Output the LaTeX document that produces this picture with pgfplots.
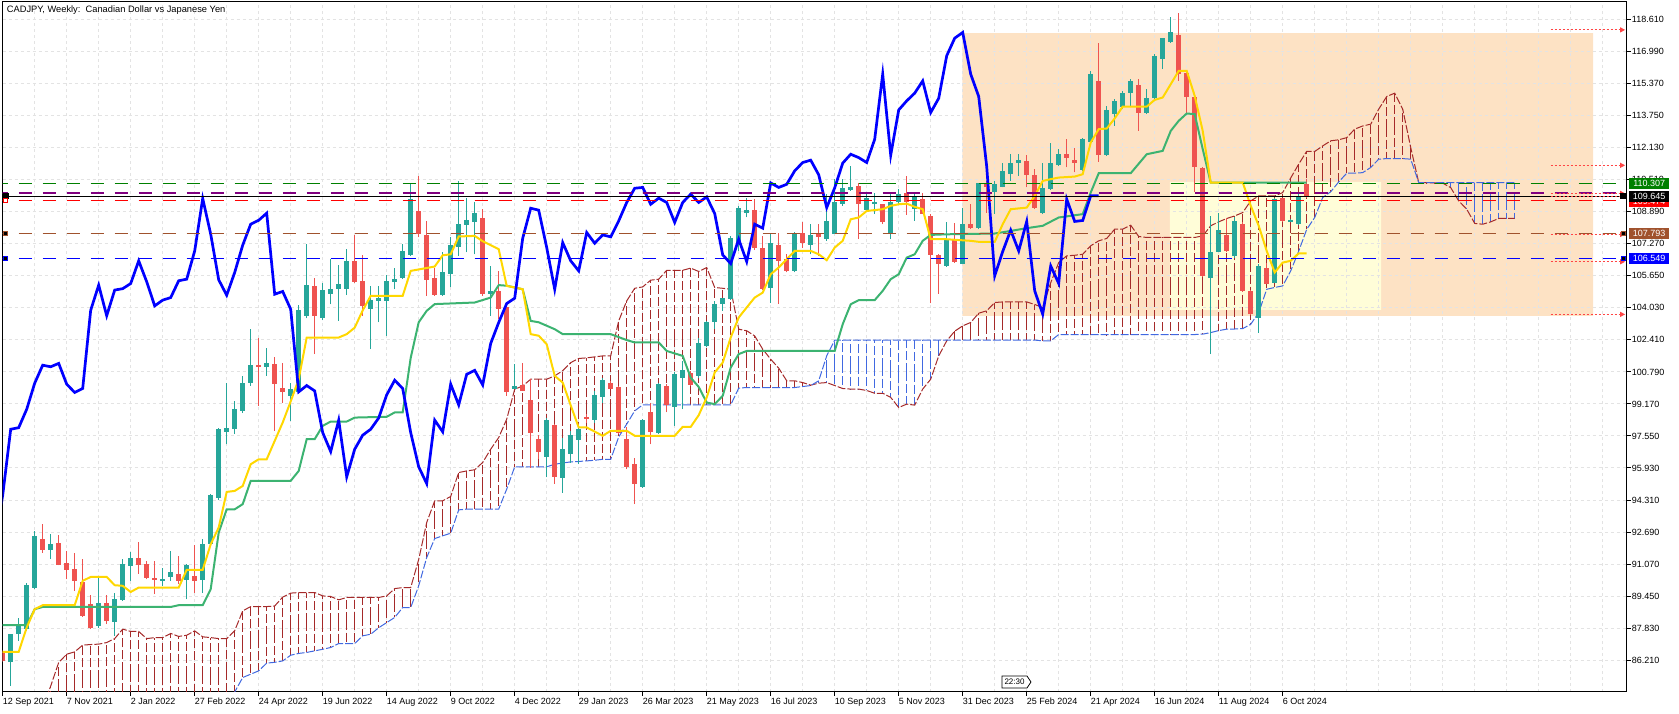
\documentclass[border=0pt]{standalone}
\usepackage{pgfplots}
\pgfplotsset{compat=1.18}
\usepackage{pgfplotstable}
\usepackage{fontspec}
\setmainfont{Liberation Sans}
\usetikzlibrary{arrows.meta}
\definecolor{bull}{HTML}{26A69A}
\definecolor{bear}{HTML}{EF5350}
\definecolor{tenkan}{HTML}{FFD700}
\definecolor{kijun}{HTML}{3CB371}
\definecolor{chikou}{HTML}{0000FF}
\definecolor{cloudred}{HTML}{A52A2A}
\definecolor{cloudblue}{HTML}{4169E1}
\definecolor{orangebox}{HTML}{FDE2C4}
\definecolor{yellowbox}{HTML}{FFFDD8}
\definecolor{lvgreen}{HTML}{008000}
\definecolor{lvpurple}{HTML}{800080}
\definecolor{lvbrown}{HTML}{A0522D}
\definecolor{arrowred}{HTML}{FF4545}
\definecolor{gridc}{HTML}{E3E3E3}

% bullish weekly candles: bar index, open, high, low, close
\pgfplotstableread{
i o h l c
1 86.11 87.55 84.91 87.52
2 87.52 88.36 87.19 87.94
3 87.78 90.10 87.70 90.00
4 89.88 92.75 89.80 92.50
6 91.79 92.58 91.32 92.08
12 87.94 90.39 87.86 89.12
14 88.15 89.63 87.44 89.29
15 89.26 91.32 89.21 91.06
16 90.98 91.70 90.22 91.40
20 90.27 90.89 89.97 90.30
21 90.44 91.74 90.22 90.69
23 90.27 91.06 89.29 91.01
25 90.27 92.36 89.63 92.07
26 92.11 94.60 92.00 94.55
27 94.40 97.95 94.30 97.89
28 97.77 100.25 97.13 97.97
29 97.92 99.32 97.64 98.90
30 98.82 100.60 98.70 100.22
31 100.25 102.95 100.10 101.13
33 101.06 102.02 100.59 101.22
36 99.58 100.25 98.31 99.95
37 99.78 104.17 99.70 103.91
38 103.63 107.25 103.50 105.18
40 103.51 105.31 103.40 104.93
41 104.72 106.49 104.20 105.00
42 104.97 106.19 103.37 105.26
43 104.97 107.00 104.67 106.41
46 103.96 105.14 101.94 104.42
47 104.38 105.14 103.29 104.55
48 104.38 105.68 102.61 105.40
49 105.36 106.07 104.97 105.48
50 105.56 107.25 105.48 106.91
51 106.69 110.28 106.66 109.56
55 104.67 106.83 104.64 105.82
56 105.73 107.59 105.06 107.20
57 107.13 110.45 106.66 108.26
58 108.21 109.61 106.83 108.46
59 108.38 109.39 106.74 108.82
61 104.72 106.15 103.63 104.86
64 99.91 101.18 99.90 100.10
68 96.49 98.48 95.45 98.35
70 95.40 97.47 94.69 96.88
71 96.66 97.81 96.20 97.59
72 97.34 98.06 96.12 97.89
74 98.35 99.83 98.22 99.63
75 99.53 100.50 99.24 100.37
80 94.97 98.40 94.93 98.35
82 97.69 100.25 97.64 100.17
84 99.02 100.76 98.06 100.67
85 100.50 101.35 98.90 100.87
87 100.59 102.53 100.50 102.23
88 102.11 103.37 102.03 103.29
89 103.29 104.38 102.95 104.25
90 104.25 104.55 103.88 104.52
91 104.47 107.67 104.42 107.55
92 107.33 109.19 106.91 109.07
93 108.83 109.61 108.60 108.97
96 105.06 107.84 104.30 107.33
99 105.87 107.88 105.82 107.84
101 107.22 108.26 106.74 107.72
103 107.50 109.78 107.42 108.43
104 107.79 110.54 107.76 109.36
105 109.27 110.54 109.19 110.08
106 110.00 111.21 109.95 110.12
108 108.98 109.86 108.93 109.58
109 109.27 109.86 108.77 109.36
111 107.81 109.86 107.50 109.36
112 109.36 110.03 109.27 109.78
114 109.02 109.78 108.43 109.64
118 106.15 108.35 106.10 107.50
120 106.24 109.10 106.24 108.26
122 108.06 110.37 108.00 110.35
124 109.91 110.45 108.80 110.28
125 110.15 111.38 110.12 110.96
126 110.79 111.80 110.45 111.38
127 111.36 111.80 110.70 111.50
130 108.85 111.38 108.77 110.10
131 110.03 112.36 110.00 111.35
132 111.26 112.05 111.20 111.80
135 111.01 112.64 110.96 112.56
136 112.43 116.02 112.39 115.85
138 111.75 114.24 111.72 114.04
139 113.83 114.58 113.24 114.50
140 114.21 115.00 114.08 114.89
141 114.89 115.60 114.25 115.51
143 113.91 115.09 113.83 114.63
144 114.62 116.86 114.58 116.78
145 116.61 117.70 116.10 117.67
146 117.48 118.72 117.45 117.96
151 105.56 108.68 101.69 106.88
152 106.86 108.85 106.83 107.96
154 106.66 108.60 106.57 108.40
157 103.54 106.24 102.78 106.15
159 105.31 109.61 105.28 109.53
161 108.40 108.50 108.35 108.45
162 108.26 109.78 108.21 109.70
}\bullc

% bearish weekly candles
\pgfplotstableread{
i o h l c
0 86.60 86.70 86.10 86.17
5 92.33 93.09 91.65 91.79
7 92.13 92.53 91.00 91.03
8 91.11 91.74 90.30 90.78
9 90.84 91.65 89.71 90.19
10 90.14 91.32 88.40 88.45
11 89.04 89.49 87.78 87.86
13 89.09 89.49 88.03 88.20
17 91.40 92.21 90.59 91.03
18 91.06 91.23 90.30 90.35
19 90.39 91.23 89.55 90.27
22 90.59 91.48 90.05 90.22
24 90.47 92.02 89.63 90.19
32 101.15 102.53 99.07 101.05
34 101.18 101.52 97.81 100.17
35 100.00 101.26 99.24 99.75
39 105.14 105.56 101.69 103.63
44 106.41 107.71 105.31 105.35
45 105.38 106.69 103.63 104.13
52 108.94 110.71 107.59 107.76
53 107.71 108.43 104.64 105.45
54 105.56 106.07 104.64 104.67
60 108.60 109.02 104.64 104.72
62 104.89 105.90 103.46 103.96
63 104.05 104.13 99.58 99.78
65 100.12 101.26 99.80 99.83
66 99.36 100.42 95.95 97.72
67 97.39 97.60 96.40 96.76
69 98.10 98.15 95.14 95.48
73 98.50 98.65 98.22 98.46
76 100.25 100.34 99.92 99.95
77 100.03 100.08 97.64 97.72
78 97.39 97.98 95.87 95.99
79 96.12 96.46 94.10 95.14
81 98.74 99.24 97.13 97.76
83 100.08 100.17 98.74 99.12
86 100.71 100.84 100.08 100.13
94 108.99 109.53 106.95 107.08
95 107.08 107.67 104.95 104.97
97 107.20 107.84 104.22 106.41
98 106.49 106.74 105.82 105.90
100 107.84 108.35 107.08 107.30
102 107.81 108.26 106.66 107.62
107 110.17 110.37 107.50 109.27
110 109.27 109.30 108.26 108.35
113 109.83 110.70 108.73 109.36
115 109.56 109.86 108.77 108.80
116 108.68 108.77 104.25 106.71
117 106.71 106.74 104.75 106.27
119 107.50 108.31 106.32 106.37
121 108.26 109.27 108.03 108.06
123 110.28 110.45 108.85 110.12
128 111.47 111.75 110.12 110.76
129 110.74 111.04 109.02 109.10
133 111.80 112.56 111.13 111.63
134 111.50 112.14 110.88 111.38
137 115.51 117.45 111.41 111.75
142 115.29 115.60 113.00 113.91
147 117.82 118.93 115.51 115.85
148 115.90 116.02 113.83 114.72
149 114.72 114.75 109.90 111.18
150 111.09 111.13 105.60 105.65
153 107.70 108.55 106.86 106.91
155 108.26 108.35 104.84 104.89
156 104.89 104.92 103.66 103.71
158 106.07 106.32 105.23 105.26
160 109.58 109.61 108.38 108.40
163 110.28 110.54 109.60 109.70
}\bearc

% weekly closes (Chikou span is drawn 26 bars back)
\pgfplotstableread{
i c
0 86.17
1 87.52
2 87.94
3 90.00
4 92.50
5 91.79
6 92.08
7 91.03
8 90.78
9 90.19
10 88.45
11 87.86
12 89.12
13 88.20
14 89.29
15 91.06
16 91.40
17 91.03
18 90.35
19 90.27
20 90.30
21 90.69
22 90.22
23 91.01
24 90.19
25 92.07
26 94.55
27 97.89
28 97.97
29 98.90
30 100.22
31 101.13
32 101.05
33 101.22
34 100.17
35 99.75
36 99.95
37 103.91
38 105.18
39 103.63
40 104.93
41 105.00
42 105.26
43 106.41
44 105.35
45 104.13
46 104.42
47 104.55
48 105.40
49 105.48
50 106.91
51 109.56
52 107.76
53 105.45
54 104.67
55 105.82
56 107.20
57 108.26
58 108.46
59 108.82
60 104.72
61 104.86
62 103.96
63 99.78
64 100.10
65 99.83
66 97.72
67 96.76
68 98.35
69 95.48
70 96.88
71 97.59
72 97.89
73 98.46
74 99.63
75 100.37
76 99.95
77 97.72
78 95.99
79 95.14
80 98.35
81 97.76
82 100.17
83 99.12
84 100.67
85 100.87
86 100.13
87 102.23
88 103.29
89 104.25
90 104.52
91 107.55
92 109.07
93 108.97
94 107.08
95 104.97
96 107.33
97 106.41
98 105.90
99 107.84
100 107.30
101 107.72
102 107.62
103 108.43
104 109.36
105 110.08
106 110.12
107 109.27
108 109.58
109 109.36
110 108.35
111 109.36
112 109.78
113 109.36
114 109.64
115 108.80
116 106.71
117 106.27
118 107.50
119 106.37
120 108.26
121 108.06
122 110.35
123 110.12
124 110.28
125 110.96
126 111.38
127 111.50
128 110.76
129 109.10
130 110.10
131 111.35
132 111.80
133 111.63
134 111.38
135 112.56
136 115.85
137 111.75
138 114.04
139 114.50
140 114.89
141 115.51
142 113.91
143 114.63
144 116.78
145 117.67
146 117.96
147 115.85
148 114.72
149 111.18
150 105.65
151 106.88
152 107.96
153 106.91
154 108.40
155 104.89
156 103.71
157 106.15
158 105.26
159 109.53
160 108.40
161 108.45
162 109.70
163 109.70
}\closes

% Ichimoku cloud: Senkou span A and span B per bar
\pgfplotstableread{
i A B
5 83.8 83.5
6 84.9 83.5
7 86.09 83.5
8 86.51 83.5
9 86.63 83.5
10 86.97 83.5
11 87.00 83.5
12 87.02 83.5
13 87.10 83.5
14 87.30 83.5
15 87.78 83.5
16 87.66 83.5
17 87.66 83.5
18 87.30 83.5
19 87.35 83.5
20 87.35 83.5
21 87.56 83.5
22 87.41 83.5
23 87.47 83.5
24 87.69 83.5
25 87.39 83.5
26 87.35 83.5
27 87.30 83.5
28 87.30 84.0
29 87.70 84.60
30 88.70 85.33
31 88.92 85.50
32 88.92 85.67
33 88.92 86.06
34 88.95 86.10
35 89.40 86.17
36 89.60 86.46
37 89.63 86.55
38 89.63 86.60
39 89.63 86.68
40 89.46 86.76
41 89.43 86.85
42 89.26 87.05
43 89.38 87.05
44 89.38 87.05
45 89.38 87.44
46 89.38 87.52
47 89.38 87.85
48 89.46 88.11
49 89.83 88.37
50 89.88 88.87
51 89.88 88.87
52 91.30 89.97
53 93.17 91.40
54 94.27 92.36
55 94.27 92.50
56 94.49 92.63
57 95.70 93.81
58 95.78 93.85
59 95.84 93.85
60 96.21 93.85
61 96.88 93.85
62 97.47 93.85
63 98.40 94.86
64 99.91 95.99
65 100.08 95.99
66 100.42 95.99
67 100.42 95.99
68 100.42 95.99
69 100.59 96.12
70 100.85 96.18
71 101.26 96.24
72 101.47 96.26
73 101.50 96.29
74 101.55 96.32
75 101.60 96.37
76 101.60 96.37
77 103.37 97.50
78 104.38 98.15
79 105.02 98.82
80 105.09 99.12
81 105.43 99.12
82 105.48 99.12
83 105.93 99.12
84 105.93 99.12
85 105.93 99.12
86 106.04 99.12
87 105.87 99.12
88 106.07 99.12
89 105.06 99.12
90 105.02 99.12
91 104.97 99.12
92 102.95 99.97
93 102.87 100.00
94 102.61 100.00
95 101.94 100.00
96 101.43 100.00
97 100.98 100.00
98 100.34 100.00
99 100.34 100.00
100 100.25 100.05
101 100.12 100.10
102 100.22 100.34
103 100.25 101.60
104 100.10 102.40
105 99.95 102.40
106 99.92 102.40
107 99.92 102.40
108 99.85 102.40
109 99.71 102.40
110 99.71 102.40
111 99.50 102.40
112 98.99 102.40
113 99.16 102.40
114 99.11 102.40
115 99.92 102.40
116 100.42 102.40
117 101.60 102.40
118 102.36 102.40
119 102.85 102.40
120 103.12 102.40
121 103.29 102.40
122 103.76 102.40
123 103.88 102.40
124 104.30 102.40
125 104.33 102.40
126 104.33 102.40
127 104.33 102.40
128 104.33 102.40
129 104.20 102.40
130 104.05 102.36
131 105.30 102.36
132 106.32 102.68
133 106.66 102.68
134 106.69 102.68
135 106.74 102.68
136 107.17 102.68
137 107.42 102.68
138 107.54 102.68
139 108.01 102.68
140 108.01 102.68
141 108.21 102.68
142 107.64 102.68
143 107.59 102.68
144 107.59 102.68
145 107.59 102.68
146 107.59 102.68
147 107.59 102.68
148 107.59 102.68
149 107.59 102.68
150 107.67 102.70
151 108.18 102.78
152 108.38 102.88
153 108.55 102.95
154 108.68 102.96
155 108.85 102.98
156 109.44 103.20
157 109.69 103.79
158 109.69 104.97
159 109.69 105.06
160 109.86 105.14
161 110.60 105.90
162 111.30 106.90
163 111.95 108.00
164 111.94 108.60
165 112.22 109.61
166 112.48 109.90
167 112.53 110.40
168 112.64 110.84
169 113.07 110.84
170 113.23 110.87
171 113.32 111.13
172 114.08 111.55
173 114.72 111.58
174 114.89 111.58
175 114.08 111.58
176 112.14 111.55
177 110.37 110.37
178 110.36 110.37
179 110.35 110.37
180 110.34 110.37
181 110.11 110.37
182 109.44 110.37
183 109.02 110.37
184 108.30 110.37
185 108.26 110.37
186 108.38 110.37
187 108.55 110.37
188 108.55 110.37
189 108.55 110.37
}\cloud

\pgfplotstableread{
i v
0 86.63
2 86.63
3 87.86
4 88.79
5 88.99
9 88.99
10 90.22
11 90.42
13 90.42
14 90.00
15 89.97
16 89.66
17 89.88
22 89.88
23 90.78
25 90.78
26 92.07
27 92.92
28 94.72
29 94.77
30 95.02
31 96.12
32 96.37
33 96.37
34 97.30
35 98.23
36 99.30
37 100.42
38 102.53
42 102.53
43 102.70
44 103.03
45 103.90
46 104.64
50 104.64
51 105.90
54 106.12
55 106.69
56 106.74
57 107.64
59 107.67
60 107.40
61 107.20
62 107.00
63 105.14
64 105.06
65 104.97
66 102.70
67 102.62
68 102.19
69 100.59
70 100.25
71 99.10
72 97.98
73 97.98
74 97.77
75 97.56
76 97.81
78 97.81
79 97.56
84 97.56
85 98.01
86 98.01
87 98.60
88 99.50
89 100.76
90 101.26
91 102.53
92 103.54
93 104.05
94 104.55
95 104.80
96 105.73
97 106.07
98 106.49
99 106.91
101 106.91
102 106.74
103 106.44
104 107.08
105 107.42
106 108.51
107 108.60
108 108.93
110 109.02
111 109.19
112 109.27
113 109.30
114 109.14
115 109.02
116 107.50
118 107.50
121 107.42
122 107.37
124 107.37
125 108.26
126 109.02
128 109.10
129 109.69
130 110.45
131 110.54
132 110.62
134 110.67
135 110.79
136 112.39
137 113.07
138 113.10
139 113.61
140 114.21
143 114.21
144 114.55
145 114.67
146 115.34
147 116.02
148 116.02
149 114.75
150 112.98
151 110.37
155 110.37
156 109.20
157 108.18
158 106.91
159 105.82
160 106.32
161 106.41
162 106.79
163 106.79
}\tenkantab

\pgfplotstableread{
i v
0 87.98
3 87.98
4 88.79
5 88.90
21 88.90
22 88.99
25 88.99
26 89.80
27 92.66
28 93.84
29 93.84
30 94.10
31 95.28
36 95.28
37 95.78
38 97.39
39 97.39
40 98.06
41 98.28
43 98.28
44 98.48
48 98.52
49 98.74
50 98.74
51 101.50
52 103.30
53 103.88
54 104.22
59 104.30
61 104.55
62 105.18
63 105.15
64 105.06
65 104.97
66 103.37
67 103.30
69 102.95
70 102.70
76 102.70
78 102.40
79 102.28
82 102.28
83 101.85
85 101.60
86 100.50
87 100.03
88 99.24
89 99.16
90 99.58
91 101.01
92 101.69
93 101.85
104 101.85
105 103.20
106 104.21
107 104.42
109 104.42
110 104.89
111 105.48
112 105.73
113 106.57
114 106.74
115 107.42
116 107.72
118 107.75
124 107.79
126 107.92
128 108.06
130 108.18
132 108.60
135 108.77
136 109.86
137 110.84
141 110.84
143 111.80
145 111.97
146 112.98
147 113.49
148 113.86
149 113.83
150 112.06
151 110.37
163 110.37
}\kijuntab

\pgfplotsset{
  hatch/.style 2 args={draw=none, mark=none, restrict x to domain=#2,
    error bars/.cd, y dir=both, y explicit, error mark=none,
    error bar style={draw=#1, line width=1pt, dash pattern=on 9pt off 3pt}},
  wick/.style={draw=none, mark=none,
    error bars/.cd, y dir=plus, y explicit, error mark=none,
    error bar style={draw=#1, line width=1pt, solid}},
  body/.style={draw=none, mark=none,
    error bars/.cd, y dir=both, y explicit, error mark=none,
    error bar style={draw=#1, line width=5pt, solid}},
  lvl/.style={#1, line width=1pt, dash pattern=on 13pt off 11pt},
  darrow/.style={arrowred, line width=1pt, dash pattern=on 2pt off 2pt, -{Triangle[length=5pt,width=5pt]}},
}

\begin{document}
\begin{tikzpicture}
\begin{axis}[
  set layers,
  at={(2.5pt,21.3pt)}, anchor=south west,
  scale only axis, width=1624.2pt, height=690.2pt,
  xmin=-0.025, xmax=203.0, ymin=84.614, ymax=119.526,
  axis line style={line width=1pt, black},
  tick align=outside, major tick length=4pt,
  xtick pos=left, ytick pos=right, yticklabel pos=right,
  xtick={0,8,...,160},
  xticklabels={12 Sep 2021,7 Nov 2021,2 Jan 2022,27 Feb 2022,24 Apr 2022,19 Jun 2022,14 Aug 2022,9 Oct 2022,4 Dec 2022,29 Jan 2023,26 Mar 2023,21 May 2023,16 Jul 2023,10 Sep 2023,5 Nov 2023,31 Dec 2023,25 Feb 2024,21 Apr 2024,16 Jun 2024,11 Aug 2024,6 Oct 2024},
  extra x ticks={4,12,...,196,168,176,184,192,200},
  extra x tick labels={},
  extra x tick style={grid=major, tick style={draw=none}},
  ytick={86.21,87.83,89.45,91.07,92.69,94.31,95.93,97.55,99.17,100.79,102.41,104.03,105.65,107.27,108.89,110.51,112.13,113.75,115.37,116.99,118.61},
  yticklabels={86.210,87.830,89.450,91.070,92.690,94.310,95.930,97.550,99.170,100.790,102.410,104.030,105.650,107.270,108.890,110.510,112.130,113.750,115.370,116.990,118.610},
  xmajorgrids, ymajorgrids,
  major grid style={gridc, line width=1pt, dash pattern=on 3pt off 3pt},
  tick style={black, line width=1pt},
  ticklabel style={font=\fontsize{9}{10}\selectfont, black},
  xticklabel style={anchor=north west, inner sep=0pt, yshift=-2pt},
  yticklabel style={anchor=west, inner sep=0pt, xshift=1pt},
]
% background rectangles
\addplot[on layer=axis background, fill=orangebox, draw=none] coordinates {(119.95,103.63) (198.8,103.63) (198.8,117.92) (119.95,117.92) (119.95,103.63)};
\addplot[on layer=axis background, fill=yellowbox, draw=none] coordinates {(145.9,103.93) (172.3,103.93) (172.3,110.4) (145.9,110.4) (145.9,103.93)};

% cloud hatching
\addplot[hatch={cloudred}{5:101}] table[x=i, y expr={(\thisrow{A}+\thisrow{B})/2}, y error expr={abs(\thisrow{A}-\thisrow{B})/2}] {\cloud};
\addplot[hatch={cloudred}{119:180}] table[x=i, y expr={(\thisrow{A}+\thisrow{B})/2}, y error expr={abs(\thisrow{A}-\thisrow{B})/2}] {\cloud};
\addplot[hatch={cloudblue}{102:118}] table[x=i, y expr={(\thisrow{A}+\thisrow{B})/2}, y error expr={abs(\thisrow{A}-\thisrow{B})/2}] {\cloud};
\addplot[hatch={cloudblue}{181:189}] table[x=i, y expr={(\thisrow{A}+\thisrow{B})/2}, y error expr={abs(\thisrow{A}-\thisrow{B})/2}] {\cloud};
\addplot[cloudred, line width=1pt, dash pattern=on 8pt off 2pt] table[x=i,y=A] {\cloud};
\addplot[cloudblue, line width=1pt, dash pattern=on 8pt off 2pt] table[x=i,y=B] {\cloud};

% candles
\addplot[wick=bull] table[x=i, y=l, y error plus expr={\thisrow{h}-\thisrow{l}}] {\bullc};
\addplot[wick=bear] table[x=i, y=l, y error plus expr={\thisrow{h}-\thisrow{l}}] {\bearc};
\addplot[body=bull] table[x=i, y expr={(\thisrow{o}+\thisrow{c})/2}, y error expr={max(abs(\thisrow{c}-\thisrow{o})/2,0.03)}] {\bullc};
\addplot[body=bear] table[x=i, y expr={(\thisrow{o}+\thisrow{c})/2}, y error expr={max(abs(\thisrow{c}-\thisrow{o})/2,0.03)}] {\bearc};

% ichimoku lines
\addplot[kijun, line width=2pt] table[x=i,y=v] {\kijuntab};
\addplot[tenkan, line width=2pt] table[x=i,y=v] {\tenkantab};
\addplot[chikou, line width=2.7pt] table[x expr=\thisrow{i}-26, y=c] {\closes};

% horizontal levels
\addplot[lvl=lvgreen] coordinates {(-1,110.307) (204,110.307)};
\addplot[lvpurple, line width=2pt, dash pattern=on 13pt off 11pt] coordinates {(-1,109.824) (204,109.824)};
\addplot[black, line width=1pt] coordinates {(-1,109.67) (204,109.67)};
\addplot[lvl=red] coordinates {(-1,109.474) (204,109.474)};
\addplot[lvl=lvbrown] coordinates {(-1,107.793) (204,107.793)};
\addplot[lvl=blue] coordinates {(-1,106.549) (204,106.549)};

% red dotted arrows at right
\addplot[darrow] coordinates {(193.5,118.09) (202.8,118.09)};
\addplot[darrow] coordinates {(193.5,111.24) (202.8,111.24)};
\addplot[darrow] coordinates {(193.5,109.82) (202.8,109.82)};
\addplot[darrow] coordinates {(193.5,109.68) (202.8,109.68)};
\addplot[darrow] coordinates {(193.5,107.74) (202.8,107.74)};
\addplot[darrow] coordinates {(193.5,106.36) (202.8,106.36)};
\addplot[darrow] coordinates {(193.5,103.70) (202.8,103.70)};

% small end markers
\addplot[only marks, mark=square*, mark size=2.5pt, mark options={fill=black, draw=black}] coordinates {(0.35,109.70) (202.55,109.70)};
\addplot[only marks, mark=square*, mark size=2pt, mark options={fill=white, draw=red}] coordinates {(0.35,109.45)};
\addplot[only marks, mark=square*, mark size=2pt, mark options={fill=black, draw=lvbrown}] coordinates {(0.35,107.793) (202.55,107.793)};
\addplot[only marks, mark=square*, mark size=2pt, mark options={fill=black, draw=blue}] coordinates {(0.35,106.549) (202.55,106.549)};
\end{axis}

% title
\node[anchor=base west, inner sep=0pt, font=\fontsize{9.3}{10}\selectfont] at (6.7pt,700.3pt) {CADJPY, Weekly:\ \ Canadian Dollar vs Japanese Yen};

% right price labels
\tikzset{plab/.style={anchor=west, inner sep=0pt, minimum width=40pt, minimum height=11pt, text=white, font=\fontsize{9}{10}\selectfont}}
\node[plab, fill=lvgreen] at (1629pt,529.25pt) {110.307};
\node[plab, fill=red] at (1629pt,511.5pt) {109.474};
\node[plab, fill=black] at (1629pt,516.16pt) {109.645};
\node[plab, fill=lvbrown] at (1629pt,479.55pt) {107.793};
\node[plab, fill=blue] at (1629pt,454.95pt) {106.549};

% time marker
\draw[black, fill=white, line width=0.8pt] (1002pt,25pt) -- (1027pt,25pt) -- (1031pt,31pt) -- (1027pt,37pt) -- (1002pt,37pt) -- cycle;
\node[inner sep=0pt, font=\fontsize{8}{9}\selectfont] at (1014.5pt,31pt) {22:30};

\pgfresetboundingbox
\path[use as bounding box] (0pt,0pt) rectangle (1679pt,713pt);
\end{tikzpicture}
\end{document}
